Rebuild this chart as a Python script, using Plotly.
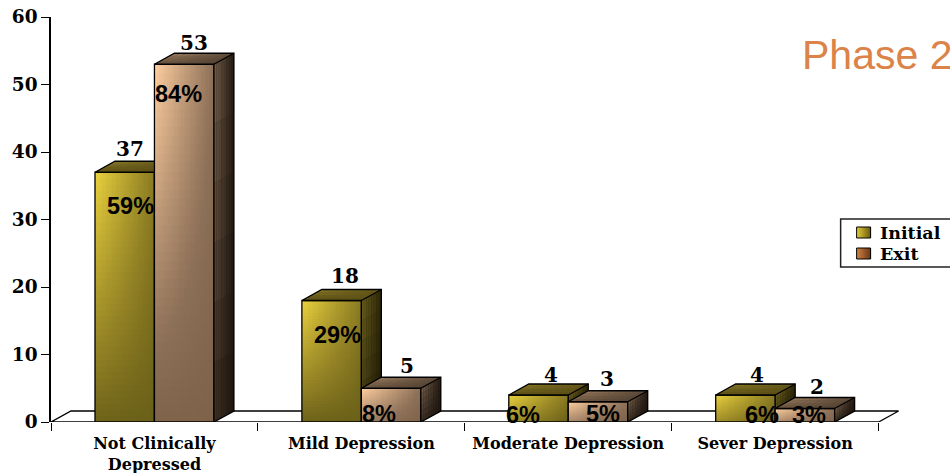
import numpy as np
import plotly.graph_objects as go

# Patient counts by depression category
categories = ["Not Clinically<br>Depressed", "Mild Depression", "Moderate Depression", "Sever Depression"]
initial_counts = [37, 18, 4, 4]
exit_counts = [53, 5, 3, 2]
initial_pct = ["59%", "29%", "6%", "6%"]
exit_pct = ["84%", "8%", "5%", "3%"]
y_ticks = [0, 10, 20, 30, 40, 50, 60]

# Label nudges in pixels, relative to the centre and top of each bar
initial_count_dx = [5, 13, 12, 12]
exit_count_dx = [10, 16, 9, 12]
initial_count_dy = [23, 25, 20, 20]
exit_count_dy = [21, 22, 23, 22]
initial_pct_dx = [5.5, 6, -15.5, 16.5]
exit_pct_dx = [-6, -12.5, 5.5, 4]
initial_pct_dy = [34, 34, 20, 20]
exit_pct_dy = [30, 26, 12, 6]

# Drawing geometry
BAR_W = 0.2874
X_MAX = 4.2
Y_MAX = 60
M_L, M_R, M_T, M_B = 51, 29.6, 17, 51
PLOT_W = 950 - M_L - M_R
PLOT_H = 473 - M_T - M_B
PX_X = PLOT_W / X_MAX
PX_Y = PLOT_H / Y_MAX
DX = 20 / PX_X   # oblique depth in x units
DY = 11 / PX_Y   # oblique depth in y units
SERIF = "DejaVu Serif"
SANS = "Liberation Sans"


def px_x(px):
    return (px - M_L) / PLOT_W


def px_y(px):
    return (473 - M_B - px) / PLOT_H


def hex_rgb(h):
    return np.array([int(h[i:i + 2], 16) for i in (1, 3, 5)], dtype=float)


def mix_rgb(a, b, t):
    return a * (1 - t) + b * t


def css(c):
    return "rgb(%d,%d,%d)" % tuple(np.round(c))


def add_cells(fig, cells, axes):
    """Draw shaded quads, grouped by colour so each colour is one trace."""
    grouped = {}
    for color, xs, ys in cells:
        grouped.setdefault(color, []).append((xs, ys))
    for color, polys in grouped.items():
        x, y = [], []
        for xs, ys in polys:
            x += xs + [xs[0], None]
            y += ys + [ys[0], None]
        fig.add_trace(go.Scatter(x=x, y=y, mode="none", fill="toself", fillcolor=color,
                                 hoverinfo="skip", showlegend=False, xaxis=axes[0], yaxis=axes[1]))


def outline(fig, xs, ys, axes):
    fig.add_trace(go.Scatter(x=xs, y=ys, mode="lines", line=dict(color="#000", width=1.3),
                             hoverinfo="skip", showlegend=False, xaxis=axes[0], yaxis=axes[1]))


def add_series(fig, name, values, offset, style, axes):
    xs = [i + 0.5 + offset for i in range(len(values))]
    low = [hex_rgb(c) for c in style["side_low"]]
    high = [hex_rgb(c) for c in style["side_high"]]
    top_f, top_b, top_r = (hex_rgb(style[k]) for k in ("top_front", "top_back", "top_right"))
    for xc, v in zip(xs, values):
        x0, x1 = xc - BAR_W / 2, xc + BAR_W / 2

        # front face shading
        nu, nv = 24, 40
        ue = np.linspace(0, 1, nu + 1)
        ve = np.linspace(0, 1, nv + 1)
        uc, vc = (ue[:-1] + ue[1:]) / 2, (ve[:-1] + ve[1:]) / 2
        drop = min(0.97, 0.35 + v / 25)
        z = [[0.22 * b + 0.78 * (1 - a) * (1 - drop * (1 - b)) for a in uc] for b in vc]
        fig.add_trace(go.Heatmap(x=x0 + ue * (x1 - x0), y=ve * v, z=z, zmin=0, zmax=1,
                                 colorscale=style["front"], showscale=False, hoverinfo="skip",
                                 xaxis=axes[0], yaxis=axes[1]))

        # solid underlay so the seams between shaded strips stay invisible
        add_cells(fig, [(css(mix_rgb(low[0], low[1], 0.6)),
                         [x1, x1 + DX, x1 + DX, x1], [0, DY, v + DY, v]),
                        (css(mix_rgb(top_f, top_r, 0.4)),
                         [x0, x1, x1 + DX, x0 + DX], [v, v, v + DY, v + DY])], axes)

        # side and top faces
        cells = []
        n_side, n_rows = 8, 6
        for i in range(n_side):
            a0, a1 = i / n_side, (i + 1) / n_side
            for j in range(n_rows):
                b0, b1 = j / n_rows, (j + 1) / n_rows
                b = (b0 + b1) / 2
                col = mix_rgb(mix_rgb(low[0], high[0], b), mix_rgb(low[1], high[1], b), (a0 + a1) / 2)
                cells.append((css(col),
                              [x1 + a0 * DX, x1 + a1 * DX, x1 + a1 * DX, x1 + a0 * DX],
                              [v * b0 + a0 * DY, v * b0 + a1 * DY, v * b1 + a1 * DY, v * b1 + a0 * DY]))
        n_top, n_depth = 10, 4
        for i in range(n_top):
            a0, a1 = i / n_top, (i + 1) / n_top
            for j in range(n_depth):
                d0, d1 = j / n_depth, (j + 1) / n_depth
                col = mix_rgb(mix_rgb(top_f, top_b, (d0 + d1) / 2), top_r, (a0 + a1) / 2 * 0.8)
                xa, xb = x0 + a0 * (x1 - x0), x0 + a1 * (x1 - x0)
                cells.append((css(col),
                              [xa + d0 * DX, xb + d0 * DX, xb + d1 * DX, xa + d1 * DX],
                              [v + d0 * DY, v + d0 * DY, v + d1 * DY, v + d1 * DY]))
        add_cells(fig, cells, axes)

    # transparent bars carry the values and the front outline
    fig.add_trace(go.Bar(x=xs, y=values, width=BAR_W, name=name, showlegend=False,
                         marker=dict(color="rgba(0,0,0,0)", line=dict(color="#000", width=1.3)),
                         xaxis=axes[0], yaxis=axes[1]))

    for xc, v in zip(xs, values):
        x0, x1 = xc - BAR_W / 2, xc + BAR_W / 2
        outline(fig, [x0, x0 + DX, x1 + DX, x1 + DX, x1, x1, x0],
                [v, v + DY, v + DY, DY, 0, v, v], axes)
        outline(fig, [x1, x1 + DX], [v, v + DY], axes)


initial_style = dict(
    front=[[0, "#6A6018"], [0.22, "#8A7A22"], [1, "#EAD23E"]],
    side_low=("#3E3610", "#1E1A06"), side_high=("#6A5E1C", "#2C2608"),
    top_front="#5A4F16", top_back="#8A7A28", top_right="#5C5016",
)
exit_style = dict(
    front=[[0, "#7E6249"], [0.22, "#8D7058"], [1, "#FFCFA0"]],
    side_low=("#3A2C20", "#1C140E"), side_high=("#75604C", "#241A12"),
    top_front="#6A5440", top_back="#9A7C5E", top_right="#4E3E30",
)

fig = go.Figure()
add_series(fig, "Initial", initial_counts, -BAR_W / 2, initial_style, ("x", "y"))
add_series(fig, "Exit", exit_counts, BAR_W / 2, exit_style, ("x2", "y2"))

annotations = []


def value_label(xc, v, text, dx, dy, font):
    annotations.append(dict(x=xc, y=v, xref="x", yref="y", text=text, showarrow=False,
                            xanchor="center", yanchor="middle", xshift=dx, yshift=-dy, font=font))


count_font = dict(family=SERIF, size=20, color="#000", weight="bold")
pct_font = dict(family=SANS, size=23.5, color="#000", weight="bold")
for i in range(4):
    x_i, x_e = i + 0.5 - BAR_W / 2, i + 0.5 + BAR_W / 2
    value_label(x_i, initial_counts[i], str(initial_counts[i]), initial_count_dx[i], -initial_count_dy[i], count_font)
    value_label(x_e, exit_counts[i], str(exit_counts[i]), exit_count_dx[i], -exit_count_dy[i], count_font)
    value_label(x_i, initial_counts[i], initial_pct[i], initial_pct_dx[i], initial_pct_dy[i], pct_font)
    value_label(x_e, exit_counts[i], exit_pct[i], exit_pct_dx[i], exit_pct_dy[i], pct_font)

# Slide title, running off the right edge of the page
annotations.append(dict(x=px_x(800), y=px_y(55), xref="paper", yref="paper", text="Phase 2",
                        showarrow=False, xanchor="left", yanchor="middle",
                        font=dict(family=SANS, size=41, color="#DB8348")))

# Legend box, also cut by the page edge
legend_font = dict(family=SERIF, size=17.5, color="#000", weight="bold")
for label, y_px in (("Initial", 233), ("Exit", 254)):
    annotations.append(dict(x=px_x(878), y=px_y(y_px), xref="paper", yref="paper", text=label,
                            showarrow=False, xanchor="left", yanchor="middle", font=legend_font))


def paper_rect(x0, y0, x1, y1, **kw):
    return dict(type="rect", xref="paper", yref="paper", x0=px_x(x0), x1=px_x(x1),
                y0=px_y(y0), y1=px_y(y1), **kw)


shapes = [
    # floor of the chart, behind the bars
    dict(type="path", layer="below", xref="x", yref="y",
         path=f"M 0 0 L {DX} {DY} L {4 + DX} {DY} L 4 0 Z",
         line=dict(color="#000", width=1.3), fillcolor="white"),
    paper_rect(841, 219, 960, 267, layer="below", line=dict(color="#222", width=1.5), fillcolor="white"),
]
for (y0, y1, stops) in ((227, 238, ("#E0C838", "#6E6010")), (248, 259, ("#D08040", "#6A3A18"))):
    # each strip runs to the swatch's right edge, so later ones paint over the seams
    strips = 14
    for k in range(strips):
        shapes.append(paper_rect(857 + k * 14 / strips, y0, 871, y1,
                                 line=dict(width=0),
                                 fillcolor=css(mix_rgb(hex_rgb(stops[0]), hex_rgb(stops[1]), k / (strips - 1)))))
    shapes.append(paper_rect(857, y0, 871, y1, line=dict(color="#000", width=1)))

fig.update_layout(
    width=950, height=473, autosize=False,
    margin=dict(l=M_L, r=M_R, t=M_T, b=M_B, pad=0, autoexpand=False),
    paper_bgcolor="white", plot_bgcolor="white", showlegend=False,
    barmode="overlay", annotations=annotations, shapes=shapes,
    xaxis=dict(range=[0, X_MAX], showgrid=False, zeroline=False, showline=False,
               tickmode="array", tickvals=[i + 0.5 for i in range(4)], ticktext=categories,
               ticks="outside", ticklen=7, tickcolor="rgba(0,0,0,0)",
               tickfont=dict(family=SERIF, size=16, color="#000", weight="bold"),
               minor=dict(tickmode="array", tickvals=[0, 1, 2, 3, 4], ticks="outside",
                          ticklen=8, tickwidth=1.3, tickcolor="#000")),
    yaxis=dict(range=[0, Y_MAX], showgrid=False, zeroline=False, showline=True,
               linecolor="#000", linewidth=1.5, tickmode="array", tickvals=y_ticks,
               ticks="outside", ticklen=8, tickwidth=1.3, tickcolor="#000",
               tickfont=dict(family=SERIF, size=18.5, color="#000", weight="bold")),
    xaxis2=dict(range=[0, X_MAX], overlaying="x", visible=False),
    yaxis2=dict(range=[0, Y_MAX], overlaying="y", visible=False),
)

fig.write_html("out.html")
